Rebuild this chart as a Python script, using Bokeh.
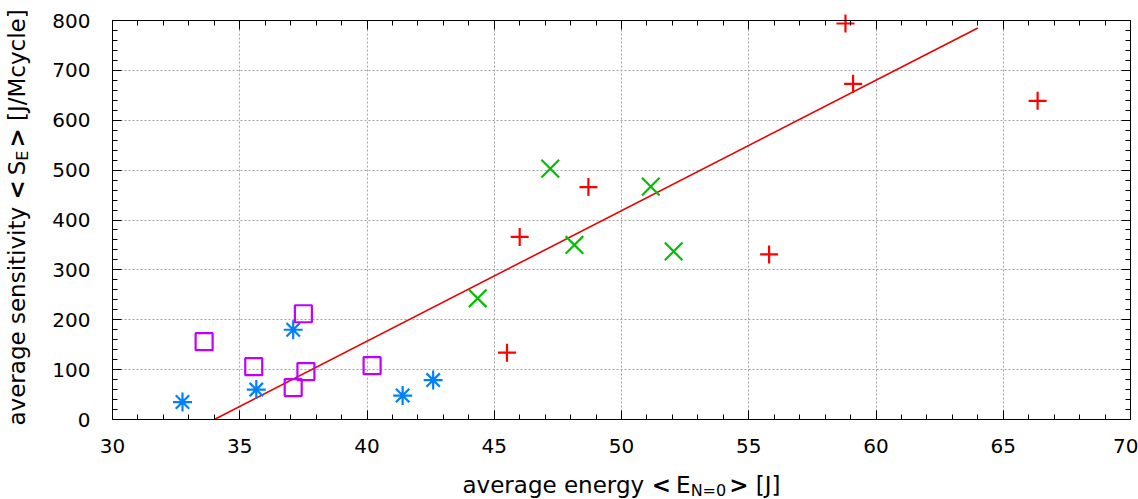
import math
from bokeh.plotting import figure
from bokeh.models import Label, LinearAxis, FixedTicker, Range1d
from bokeh.embed import file_html
from bokeh.resources import INLINE

# ---------------- data ----------------
red_x = [58.8, 59.1, 66.35, 48.7, 46.0, 55.8, 45.5]
red_y = [794, 673, 639, 466, 366, 331, 134]
green_x = [47.2, 51.15, 48.15, 52.05, 44.35]
green_y = [503, 467, 350, 337, 243]
blue_x = [32.75, 35.65, 37.1, 41.4, 42.6]
blue_y = [35, 60, 180, 48, 79]
purple_x = [33.6, 35.55, 37.5, 37.6, 37.1, 40.2]
purple_y = [156, 106, 212, 96, 64, 108]
fit_x = [34.0, 64.0]
fit_y = [0, 785]
x_ticks = [30, 35, 40, 45, 50, 55, 60, 65, 70]
y_ticks = [0, 100, 200, 300, 400, 500, 600, 700, 800]
x_minor = [30 + i for i in range(41)]
y_minor = [20 * i for i in range(41)]
x_title = [("average energy", "main", "normal"), ("<", "main", "bold"),
           ("E", "main", "normal"), ("N=0", "sub", "normal"),
           (">", "main", "bold"), ("[J]", "main", "normal")]
y_title = [("average sensitivity", "main", "normal"), ("<", "main", "bold"),
           ("S", "main", "normal"), ("E", "sub", "normal"),
           (">", "main", "bold"), ("[J/Mcycle]", "main", "normal")]

FONT = "DejaVu Sans"
W_TOTAL, H_TOTAL = 1138, 499
# plot box in canvas pixels (left, right, top, bottom)
BOX_L, BOX_R, BOX_T, BOX_B = 112, 1130, 20, 419
X0, X1 = x_ticks[0], x_ticks[-1]
Y0, Y1 = y_ticks[0], y_ticks[-1]
sx = (BOX_R - BOX_L) / (X1 - X0)
sy = (BOX_B - BOX_T) / (Y1 - Y0)

# the frame spans the whole canvas; axes are pinned to the box edges
p = figure(width=W_TOTAL, height=H_TOTAL, output_backend="svg", toolbar_location=None,
           x_range=Range1d(X0 - BOX_L / sx, X1 + (W_TOTAL - BOX_R) / sx),
           y_range=Range1d(Y0 - (H_TOTAL - BOX_B) / sy, Y1 + BOX_T / sy),
           min_border=0, x_axis_location=None, y_axis_location=None)
p.outline_line_color = None
p.background_fill_color = "white"
p.border_fill_color = "white"

xt = FixedTicker(ticks=x_ticks, minor_ticks=x_minor)
yt = FixedTicker(ticks=y_ticks, minor_ticks=y_minor)


def make_axis(ticker, ticks, loc, bounds, show, standoff):
    ax = LinearAxis(ticker=ticker, fixed_location=loc, bounds=bounds)
    ax.axis_line_color = "black"
    ax.axis_line_width = 1
    ax.major_tick_in = 9
    ax.major_tick_out = 0
    ax.minor_tick_in = 5
    ax.minor_tick_out = 0
    ax.major_tick_line_color = "black"
    ax.minor_tick_line_color = "black"
    ax.major_label_text_font = FONT
    ax.major_label_text_font_size = "20px"
    ax.major_label_text_color = "black"
    ax.major_label_standoff = standoff
    if not show:
        ax.major_label_overrides = {t: "" for t in ticks}
        ax.major_label_standoff = 0
    return ax


p.add_layout(make_axis(xt, x_ticks, Y0, (X0, X1), True, 19), "below")
p.add_layout(make_axis(yt, y_ticks, X0, (Y0, Y1), True, 22), "left")
p.add_layout(make_axis(xt, x_ticks, Y1, (X0, X1), False, 0), "above")
p.add_layout(make_axis(yt, y_ticks, X1, (Y0, Y1), False, 0), "right")

p.xgrid.ticker = xt
p.ygrid.ticker = yt
p.xgrid.bounds = (X0, X1)
p.ygrid.bounds = (Y0, Y1)
p.xgrid.cross_bounds = (Y0, Y1)
p.ygrid.cross_bounds = (X0, X1)
for g in (p.xgrid, p.ygrid):
    g.grid_line_color = "#a0a0a0"
    g.grid_line_dash = "2 2"
    g.grid_line_width = 1

p.line(fit_x, fit_y, line_color="#e80000", line_width=1.6)
p.scatter(red_x, red_y, marker="cross", size=18, line_color="#ff0000", line_width=2.2)
p.scatter(green_x, green_y, marker="x", size=25, line_color="#00c000", line_width=2.2)
p.scatter(blue_x, blue_y, marker="asterisk", size=19, line_color="#0080ff", line_width=2.2)
p.scatter(purple_x, purple_y, marker="square", size=17, fill_color=None,
          line_color="#c000ff", line_width=2.2)

# ---------------- axis titles with subscripts ----------------
W = {'a': 1255, 'v': 1212, 'e': 1260, 'r': 842, 'g': 1300, ' ': 651, 's': 1067,
     'n': 1298, 'i': 569, 't': 803, 'y': 1212, '<': 1716, '>': 1716, 'S': 1300,
     'E': 1294, 'N': 1532, '=': 1716, '0': 1303, '[': 799, ']': 799, 'J': 604,
     '/': 690, 'M': 1767, 'c': 1126, 'l': 569}
SIZES = {"main": 23, "sub": 16}
SUBSHIFT = 6


def tw(s, size):
    return sum(W[c] for c in s) / 2048.0 * size


def gap_before(txt):
    if txt in ("<", "[J]", "[J/Mcycle]"):
        return tw(" ", SIZES["main"])
    return 0.0


def gap_after(txt, kind):
    if txt == "<":
        return 5.0
    if kind == "sub":
        return 3.0
    return 0.0


def place(pieces, start, base, rotated):
    pos = start
    for txt, kind, style_ in pieces:
        sz = SIZES[kind]
        sh = SUBSHIFT if kind == "sub" else 0
        pos += gap_before(txt)
        if rotated:
            lab = Label(x=base + sh, y=pos, angle=math.pi / 2)
        else:
            lab = Label(x=pos, y=base - sh)
        lab.x_units = "screen"
        lab.y_units = "screen"
        lab.text = txt
        lab.text_font = FONT
        lab.text_font_size = f"{sz}px"
        lab.text_font_style = style_
        lab.text_color = "black"
        lab.text_align = "left"
        lab.text_baseline = "alphabetic"
        p.add_layout(lab)
        pos += tw(txt, sz) + gap_after(txt, kind)


# screen units: measured from the canvas' bottom-left corner
place(x_title, 462, 15, False)
place(y_title, H_TOTAL - 425, 16, True)

open("out.html", "w").write(file_html(p, INLINE))
